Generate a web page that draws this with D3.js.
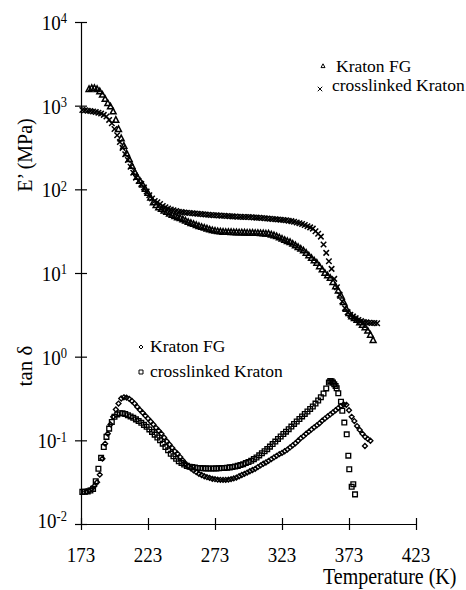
<!DOCTYPE html>
<html>
<head>
<meta charset="utf-8">
<script src="https://cdn.jsdelivr.net/npm/d3@7"></script>
<style>
  body { margin: 0; background: #fff; }
  svg { display: block; }
</style>
</head>
<body>
<svg id="chart" width="466" height="590"></svg>
<script>
// Temperature axis ticks (K) and log-axis decades (shared by E' and tan δ)
const temperatureTicks = [173, 223, 273, 323, 373, 423];
const decadeExponents = [-2, -1, 0, 1, 2, 3, 4];

// Storage modulus E' (MPa) vs temperature (K)
const kratonModulus = [
  [179,1580],[181,1620],[183,1620],[185,1580],[187,1480],[189,1350],[191,1200],[193,1070],[195,977],[197,851],
  [199,676],[201,525],[203,407],[205,331],[207,269],[209,229],[211,191],[213,162],[215,141],[217,126],
  [219,114],[221,101],[223,90.4],[225,79.4],[227,70.0],[229,64.6],[231,61.0],[233,58.2],[235,55.6],[237,53.7],
  [239,51.3],[241,49.5],[243,47.9],[245,46.2],[247,45.2],[249,43.7],[251,42.2],[253,40.7],[255,39.5],[257,38.5],
  [259,37.3],[261,36.3],[263,35.5],[265,34.7],[267,33.9],[269,33.1],[271,32.4],[273,32.0],[275,31.6],[277,31.3],
  [279,31.0],[281,30.9],[283,30.9],[285,30.8],[287,30.7],[289,30.6],[291,30.5],[293,30.5],[295,30.4],[297,30.3],
  [299,30.2],[301,30.2],[303,30.1],[305,30.1],[307,29.9],[309,29.8],[311,29.5],[313,29.5],[315,28.8],[317,28.2],
  [319,27.5],[321,26.6],[323,25.7],[325,24.8],[327,24.0],[329,23.4],[331,22.4],[333,21.4],[335,20.4],[337,19.5],
  [339,18.6],[341,17.4],[343,16.2],[345,15.1],[347,14.1],[349,13.2],[351,12.0],[353,11.0],[355,10.0],[357,9.33],
  [359,8.71],[361,7.76],[363,6.92],[365,6.17],[367,5.37],[369,4.47],[371,3.72],[373,3.31],[375,3.02],[377,2.88],
  [379,2.75],[381,2.57],[383,2.40],[385,2.24],[387,2.04],[389,1.82],[391,1.58]
];
const crosslinkedModulus = [
  [174,887],[176,881],[178,871],[180,861],[182,851],[184,841],[186,822],[188,804],[190,776],[192,741],
  [194,676],[196,617],[198,525],[200,442],[202,367],[204,313],[206,263],[208,224],[210,186],[212,158],
  [214,138],[216,126],[218,116],[220,105],[222,94.4],[224,85.1],[226,77.6],[228,72.4],[230,70.0],[232,66.8],
  [234,63.1],[236,61.0],[238,58.9],[240,57.5],[242,56.2],[244,55.0],[246,54.1],[248,53.5],[250,53.0],[252,52.5],
  [254,52.1],[256,51.8],[258,51.4],[260,51.1],[262,50.7],[264,50.4],[266,50.0],[268,49.7],[270,49.3],[272,49.1],
  [274,48.9],[276,48.6],[278,48.4],[280,48.2],[282,48.0],[284,47.8],[286,47.5],[288,47.3],[290,47.1],[292,46.9],
  [294,46.8],[296,46.7],[298,46.6],[300,46.3],[302,46.1],[304,45.9],[306,45.7],[308,45.5],[310,45.2],[312,44.9],
  [314,44.6],[316,44.3],[318,44.0],[320,43.7],[322,43.4],[324,43.1],[326,42.7],[328,42.2],[330,41.7],[332,40.9],
  [334,40.2],[336,39.4],[338,38.5],[340,37.4],[342,36.3],[344,35.1],[346,33.9],[348,31.6],[350,29.5],[352,27.2],
  [354,21.9],[356,17.4],[358,13.8],[360,11.2],[362,8.51],[364,6.76],[366,5.50],[368,4.57],[370,3.80],[372,3.39],
  [374,3.16],[376,3.02],[378,2.88],[380,2.75],[382,2.66],[384,2.60],[386,2.57],[388,2.54],[390,2.53],[392,2.52],
  [394,2.51]
];

// Loss tangent tan δ vs temperature (K)
const kratonTanDelta = [
  [177,0.0245],[179,0.0251],[181,0.0263],[183,0.0285],[185,0.0316],[187,0.0389],[189,0.0603],[191,0.0912],[193,0.120],[195,0.155],
  [197,0.191],[199,0.234],[201,0.275],[203,0.316],[205,0.327],[207,0.324],[209,0.313],[211,0.295],[213,0.275],[215,0.251],
  [217,0.231],[219,0.214],[221,0.197],[223,0.182],[225,0.168],[227,0.155],[229,0.141],[231,0.130],[233,0.120],[235,0.108],
  [237,0.0977],[239,0.0891],[241,0.0813],[243,0.0741],[245,0.0692],[247,0.0631],[249,0.0575],[251,0.0525],[253,0.0490],[255,0.0462],
  [257,0.0437],[259,0.0417],[261,0.0398],[263,0.0385],[265,0.0372],[267,0.0363],[269,0.0355],[271,0.0347],[273,0.0343],[275,0.0339],
  [277,0.0337],[279,0.0336],[281,0.0336],[283,0.0339],[285,0.0344],[287,0.0351],[289,0.0359],[291,0.0372],[293,0.0385],[295,0.0398],
  [297,0.0412],[299,0.0427],[301,0.0442],[303,0.0457],[305,0.0479],[307,0.0501],[309,0.0525],[311,0.0543],[313,0.0569],[315,0.0596],
  [317,0.0624],[319,0.0653],[321,0.0684],[323,0.0708],[325,0.0741],[327,0.0776],[329,0.0822],[331,0.0871],[333,0.0923],[335,0.0989],
  [337,0.106],[339,0.112],[341,0.120],[343,0.127],[345,0.135],[347,0.143],[349,0.151],[351,0.160],[353,0.172],[355,0.182],
  [357,0.193],[359,0.204],[361,0.216],[363,0.229],[365,0.243],[367,0.257],[369,0.268],[371,0.266],[373,0.229],[375,0.191],
  [377,0.170],[379,0.148],[381,0.133],[383,0.120],[384.9,0.0855],[385,0.110],[387,0.104],[389,0.0989]
];
const crosslinkedTanDelta = [
  [174,0.0242],[176,0.0243],[178,0.0245],[180,0.0251],[182,0.0263],[184,0.0324],[186,0.0457],[188,0.0617],[190,0.0832],[192,0.110],
  [194,0.138],[196,0.166],[198,0.191],[200,0.204],[202,0.211],[204,0.211],[206,0.207],[208,0.200],[210,0.193],[212,0.186],
  [214,0.178],[216,0.170],[218,0.162],[220,0.153],[222,0.145],[224,0.135],[226,0.126],[228,0.117],[230,0.108],[232,0.100],
  [234,0.0912],[236,0.0832],[238,0.0759],[240,0.0692],[242,0.0646],[244,0.0603],[246,0.0562],[248,0.0537],[250,0.0513],[252,0.0495],
  [254,0.0484],[256,0.0479],[258,0.0473],[260,0.0468],[262,0.0466],[264,0.0463],[266,0.0462],[268,0.0461],[270,0.0461],[272,0.0461],
  [274,0.0462],[276,0.0463],[278,0.0466],[280,0.0468],[282,0.0471],[284,0.0475],[286,0.0481],[288,0.0488],[290,0.0495],[292,0.0506],
  [294,0.0519],[296,0.0535],[298,0.0550],[300,0.0569],[302,0.0596],[304,0.0624],[306,0.0661],[308,0.0700],[310,0.0741],[312,0.0785],
  [314,0.0841],[316,0.0902],[318,0.0966],[320,0.104],[322,0.111],[324,0.119],[326,0.127],[328,0.136],[330,0.146],[332,0.157],
  [334,0.168],[336,0.180],[338,0.193],[340,0.207],[342,0.221],[344,0.237],[346,0.254],[348,0.275],[350,0.299],[352,0.327],
  [354,0.363],[356,0.417],[358,0.490],[359,0.513],[360,0.507],[361,0.490],[362,0.468],[363,0.447],[363.8,0.419],[365,0.365],
  [367,0.290],[368,0.226],[369.5,0.163],[371.3,0.118],[372.5,0.0656],[373.2,0.0451],[375,0.0279],[376.2,0.0299],[377.5,0.0226]
];

const SERIF = "Liberation Serif";

const svg = d3.select("#chart");

const x = d3.scaleLinear().domain([173, 423]).range([81, 416]);
const y = d3.scaleLog().domain([1e-2, 1e4]).range([524, 22]);

// Open marker shapes drawn as outlines
const markTriangle = { draw(ctx, size) { const r = Math.sqrt(size) / 2;
  ctx.moveTo(0, -r * 1.1); ctx.lineTo(r, r * 0.8); ctx.lineTo(-r, r * 0.8); ctx.closePath(); } };
const markCross = { draw(ctx, size) { const r = Math.sqrt(size) / 2;
  ctx.moveTo(-r, -r); ctx.lineTo(r, r); ctx.moveTo(r, -r); ctx.lineTo(-r, r); } };
const markDiamond = { draw(ctx, size) { const r = Math.sqrt(size) / 2;
  ctx.moveTo(0, -r); ctx.lineTo(r, 0); ctx.lineTo(0, r); ctx.lineTo(-r, 0); ctx.closePath(); } };
const markSquare = { draw(ctx, size) { const r = Math.sqrt(size) / 2;
  ctx.rect(-r, -r, 2 * r, 2 * r); } };

function serifText(sel, size) {
  return sel.attr("font-family", SERIF).attr("font-size", size).attr("fill", "#000");
}

// Axes
const yAxis = svg.append("g")
  .attr("transform", "translate(81,0)")
  .call(d3.axisLeft(y).tickValues(decadeExponents.map(e => Math.pow(10, e)))
    .tickSizeInner(6).tickSizeOuter(0).tickFormat(""));
yAxis.selectAll(".tick line").attr("x1", 6).attr("stroke", "#000").attr("stroke-width", 1.2);
yAxis.select(".domain").attr("stroke", "#000").attr("stroke-width", 1.2);

const xAxis = svg.append("g")
  .attr("transform", "translate(0,524)")
  .call(d3.axisBottom(x).tickValues(temperatureTicks)
    .tickSizeInner(6).tickSizeOuter(0).tickFormat(""));
xAxis.selectAll(".tick line").attr("y1", -6).attr("stroke", "#000").attr("stroke-width", 1.2);
xAxis.select(".domain").attr("stroke", "#000").attr("stroke-width", 1.2);

// Decade labels 10^n
decadeExponents.forEach(e => {
  const yy = y(Math.pow(10, e)) + (e === -2 ? 4 : 8);
  const t = serifText(svg.append("text"), 19)
    .attr("transform", `translate(67,${yy}) scale(1,1.12)`)
    .attr("text-anchor", "end");
  t.append("tspan").text("10");
  t.append("tspan").attr("dy", -6).attr("font-size", 12.5).text(String(e));
});

// Temperature labels
temperatureTicks.forEach(v => {
  serifText(svg.append("text"), 19)
    .attr("transform", `translate(${x(v)},562) scale(1,1.12)`)
    .attr("text-anchor", "middle")
    .text(v);
});

// Axis titles
serifText(svg.append("text"), 20)
  .attr("transform", "translate(323,584) scale(1,1.12)")
  .text("Temperature (K)");
serifText(svg.append("text"), 20)
  .attr("transform", "translate(32,155) rotate(-90)")
  .attr("text-anchor", "middle")
  .text("E’ (MPa)");
serifText(svg.append("text"), 21)
  .attr("transform", "translate(32,366) rotate(-90)")
  .attr("text-anchor", "middle")
  .text("tan δ");

// Data series
function plotSeries(data, shape, size, width) {
  svg.append("g")
    .selectAll("path")
    .data(data)
    .join("path")
    .attr("transform", d => `translate(${x(d[0])},${y(d[1])})`)
    .attr("d", d3.symbol(shape, size))
    .attr("fill", "none")
    .attr("stroke", "#000")
    .attr("stroke-width", width);
}
plotSeries(kratonModulus, markTriangle, 34, 1.5);
plotSeries(crosslinkedModulus, markCross, 30, 1.5);
plotSeries(kratonTanDelta, markDiamond, 24, 1.35);
plotSeries(crosslinkedTanDelta, markSquare, 22, 1.35);

// Legends
function legendEntry(px, py, shape, size, tx, ty, label) {
  svg.append("path")
    .attr("transform", `translate(${px},${py})`)
    .attr("d", d3.symbol(shape, size))
    .attr("fill", "none").attr("stroke", "#000").attr("stroke-width", 1);
  serifText(svg.append("text"), 17.5)
    .attr("x", tx).attr("y", ty)
    .text(label);
}
legendEntry(323, 66, markTriangle, 16, 336, 72, "Kraton FG");
legendEntry(320, 89, markCross, 20, 332, 91, "crosslinked Kraton");
legendEntry(141, 347, markDiamond, 16, 150, 352, "Kraton FG");
legendEntry(141, 372, markSquare, 16, 150, 377, "crosslinked Kraton");
</script>
</body>
</html>
